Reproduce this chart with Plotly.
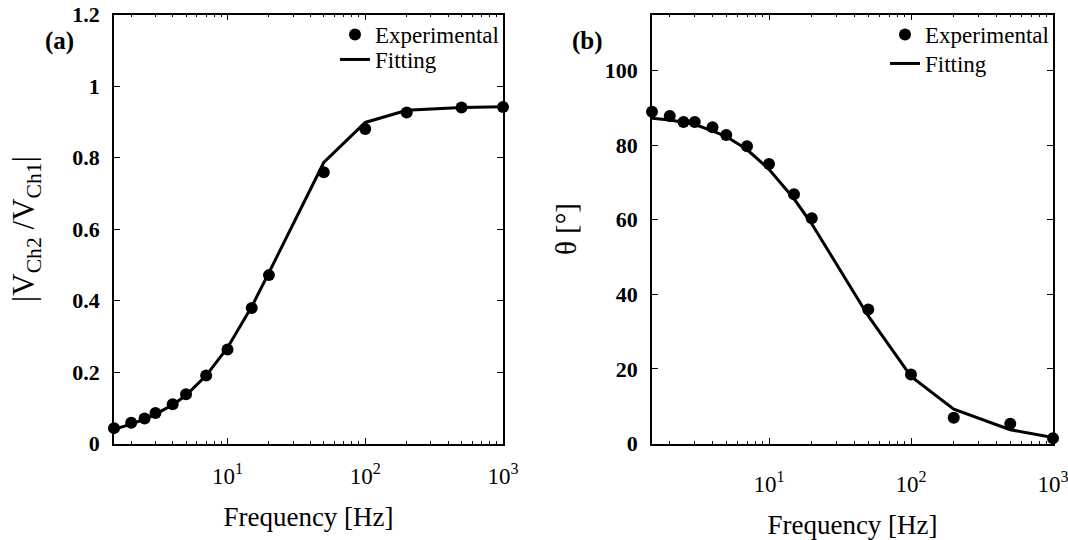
import plotly.graph_objects as go

freq = [1.5, 2, 2.5, 3, 4, 5, 7, 10, 15, 20, 50, 100, 200, 500, 1000]
mag_exp = [0.043, 0.058, 0.070, 0.085, 0.110, 0.138, 0.190, 0.263, 0.379, 0.471, 0.759, 0.880, 0.926, 0.940, 0.941]
mag_fit = [0.040, 0.054, 0.068, 0.082, 0.108, 0.135, 0.190, 0.268, 0.383, 0.478, 0.786, 0.898, 0.932, 0.940, 0.942]
phase_exp = [88.9, 87.8, 86.2, 86.2, 84.8, 82.7, 79.7, 74.9, 66.8, 60.4, 35.9, 18.5, 6.9, 5.3, 1.4]
phase_fit = [87.2, 86.7, 86.1, 85.5, 83.8, 82.3, 78.8, 73.5, 65.6, 58.9, 34.2, 18.0, 9.2, 3.7, 1.6]

xtick_vals = [10, 100, 1000]
xtick_text = ["10<sup>1</sup>", "10<sup>2</sup>", "10<sup>3</sup>"]
minor_vals = [2, 3, 4, 5, 6, 7, 8, 9, 20, 30, 40, 50, 60, 70, 80, 90, 200, 300, 400, 500, 600, 700, 800, 900]

FONT = "Liberation Serif, Times New Roman, serif"
W, H = 1068, 540

fig = go.Figure()

# Left panel
fig.add_trace(go.Scatter(x=freq, y=mag_exp, mode="markers", name="Experimental",
                         marker=dict(color="black", size=12), xaxis="x", yaxis="y",
                         legend="legend", cliponaxis=False))
fig.add_trace(go.Scatter(x=freq, y=mag_fit, mode="lines", name="Fitting",
                         line=dict(color="black", width=3), xaxis="x", yaxis="y",
                         legend="legend3", cliponaxis=False))
# Right panel
fig.add_trace(go.Scatter(x=freq, y=phase_exp, mode="markers", name="Experimental",
                         marker=dict(color="black", size=12), xaxis="x2", yaxis="y2",
                         legend="legend2", cliponaxis=False))
fig.add_trace(go.Scatter(x=freq, y=phase_fit, mode="lines", name="Fitting",
                         line=dict(color="black", width=3), xaxis="x2", yaxis="y2",
                         legend="legend4", cliponaxis=False))

ydom = [1 - 443.5 / H, 1 - 14.5 / H]

def xaxis(dom, anchor, labstand, standoff):
    return dict(type="log", domain=dom, anchor=anchor, range=[0.17609, 3],
                tickmode="array", tickvals=xtick_vals, ticktext=xtick_text,
                ticks="inside", ticklen=6, tickwidth=1.2, tickcolor="black",
                minor=dict(tickmode="array", tickvals=minor_vals, ticks="inside",
                           ticklen=3, tickwidth=1, tickcolor="black", showgrid=False),
                showline=True, linecolor="black", linewidth=1.5, mirror="ticks",
                showgrid=False, zeroline=False,
                tickfont=dict(family=FONT, size=23, color="black"),
                ticklabelstandoff=labstand, ticklabeloverflow="allow",
                title=dict(text="Frequency [Hz]", font=dict(family=FONT, size=27, color="black"),
                           standoff=standoff),
                automargin=False)

def yaxis(anchor, rng, dtick, title, tsize, standoff):
    return dict(domain=ydom, anchor=anchor, range=rng, dtick=dtick, tick0=0,
                ticks="inside", ticklen=6, tickwidth=1.2, tickcolor="black",
                showline=True, linecolor="black", linewidth=1.5, mirror="ticks",
                showgrid=False, zeroline=False,
                tickfont=dict(family=FONT, size=22, color="black", weight="bold"),
                ticklabelstandoff=8,
                title=dict(text=title, font=dict(family=FONT, size=tsize, color="black"),
                           standoff=standoff),
                automargin=False)

def leg(xleft, ytop):
    return dict(x=xleft / W, y=1 - ytop / H, xanchor="left", yanchor="top",
                bgcolor="rgba(0,0,0,0)", itemwidth=30, tracegroupgap=0,
                font=dict(family=FONT, size=23, color="black"))

fig.update_layout(
    width=W, height=H,
    margin=dict(l=0, r=0, t=0, b=0),
    paper_bgcolor="white", plot_bgcolor="white",
    font=dict(family=FONT, color="black"),
    xaxis=xaxis([114 / W, 503 / W], "y", 11, 19),
    yaxis=yaxis("x", [0, 1.2], 0.2, "|V<sub>Ch2</sub> /V<sub>Ch1</sub>|", 31, 28),
    xaxis2=xaxis([652 / W, 1053 / W], "y2", 19, 22),
    yaxis2=yaxis("x2", [0, 115], 20, "θ [°]", 29, 20),
    legend=leg(335, 13),
    legend3=leg(335, 38),
    legend2=leg(885, 13),
    legend4=leg(885, 42),
    showlegend=True,
    annotations=[
        dict(text="<b>(a)</b>", x=43 / W, y=1 - 25 / H, xref="paper", yref="paper",
             showarrow=False, font=dict(family=FONT, size=25, color="black")),
        dict(text="<b>(b)</b>", x=587 / W, y=1 - 25 / H, xref="paper", yref="paper",
             showarrow=False, font=dict(family=FONT, size=25, color="black")),
    ],
)

fig.write_html("out.html")
